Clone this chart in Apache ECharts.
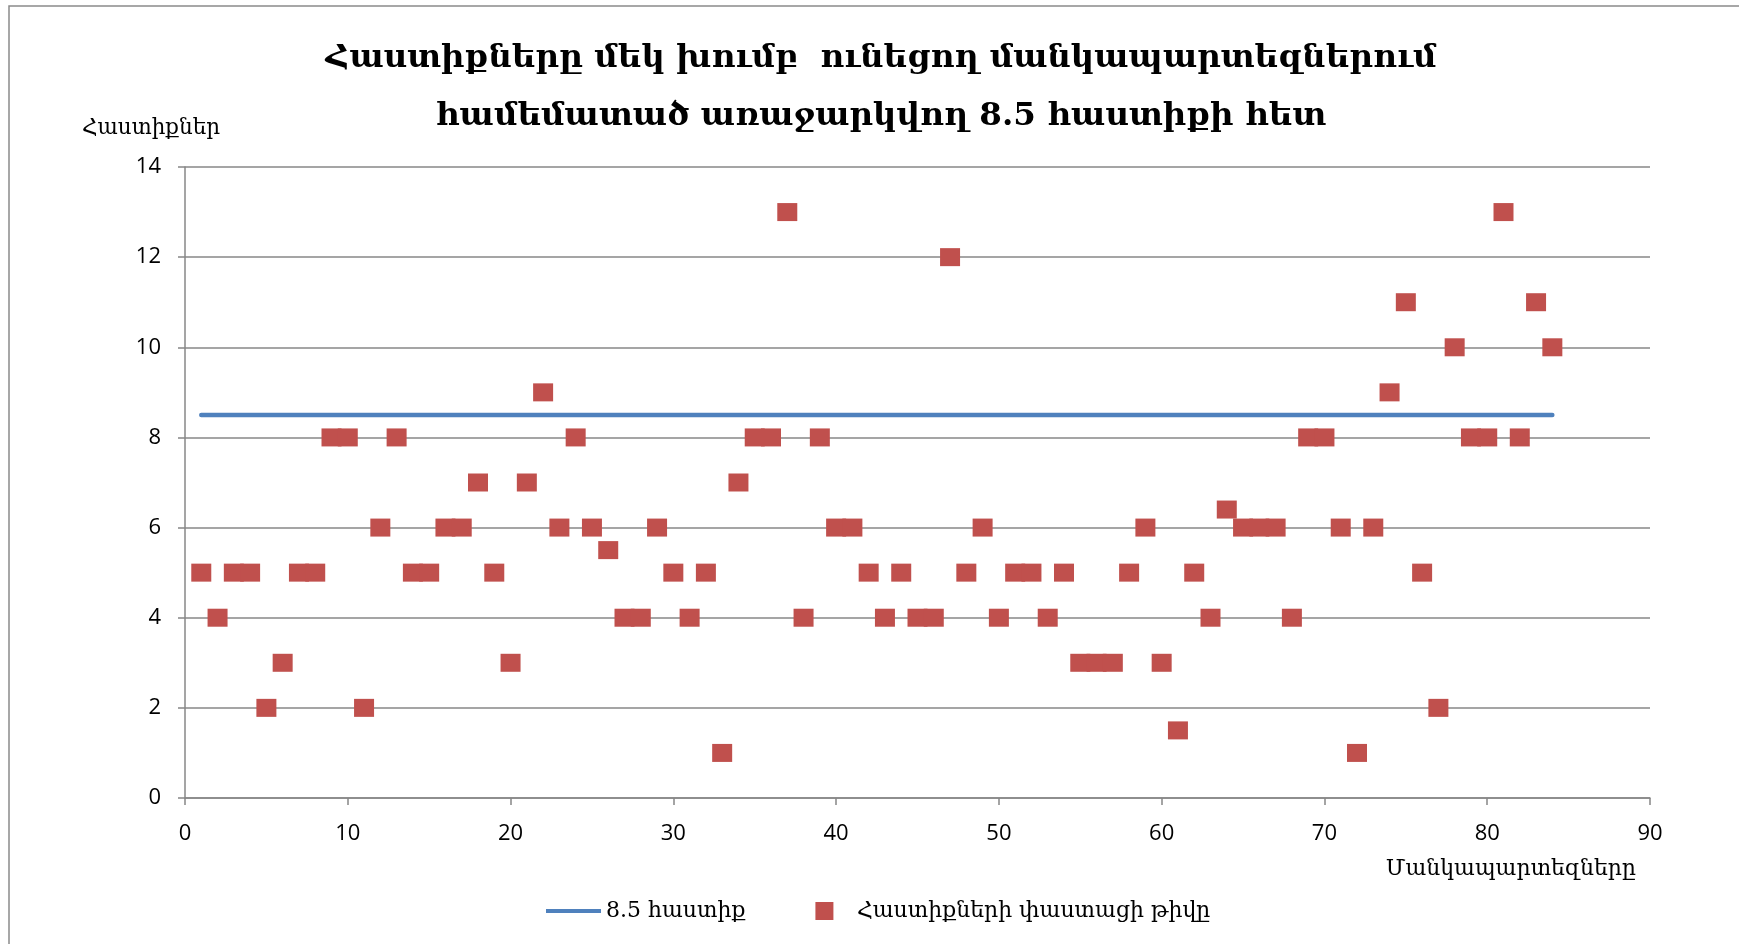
<!DOCTYPE html>
<html>
<head>
<meta charset="utf-8">
<title>Հաստիքներ</title>
<script src="https://cdn.jsdelivr.net/npm/echarts@6/dist/echarts.min.js"></script>
<style>
  html, body { margin: 0; padding: 0; background: #fff; }
  #chart { width: 1739px; height: 944px; }
</style>
</head>
<body>
<div id="chart"></div>
<script>
// kindergarten number (x) and actual staff count (y)
const gardens = [
  1, 2, 3, 4, 5, 6, 7, 8, 9, 10, 11, 12, 13, 14, 15, 16, 17, 18, 19, 20, 21,
  22, 23, 24, 25, 26, 27, 28, 29, 30, 31, 32, 33, 34, 35, 36, 37, 38, 39, 40, 41, 42,
  43, 44, 45, 46, 47, 48, 49, 50, 51, 52, 53, 54, 55, 56, 57, 58, 59, 60, 61, 62, 63,
  64, 65, 66, 67, 68, 69, 70, 71, 72, 73, 74, 75, 76, 77, 78, 79, 80, 81, 82, 83, 84
]
const staffActual = [
  5, 4, 5, 5, 2, 3, 5, 5, 8, 8, 2, 6, 8, 5, 5, 6, 6, 7, 5, 3, 7,
  9, 6, 8, 6, 5.5, 4, 4, 6, 5, 4, 5, 1, 7, 8, 8, 13, 4, 8, 6, 6, 5,
  4, 5, 4, 4, 12, 5, 6, 4, 5, 5, 4, 5, 3, 3, 3, 5, 6, 3, 1.5, 5, 4,
  6.4, 6, 6, 6, 4, 8, 8, 6, 1, 6, 9, 11, 5, 2, 10, 8, 8, 13, 8, 11, 10
]
// proposed norm line endpoints
const normX = [1, 84]
const normY = [8.5, 8.5]

const titleLines = [
  'Հաստիքները մեկ խումբ  ունեցող մանկապարտեզներում',
  'համեմատած առաջարկվող 8.5 հաստիքի հետ'
]
const yName = 'Հաստիքներ'
const xName = 'Մանկապարտեզները'
const seriesNames = ['8.5 հաստիք', 'Հաստիքների փաստացի թիվը']

const armFont = '"DejaVu Serif", serif'
const numFont = '"Open Sans", sans-serif'
const gridColor = '#878787'

const chart = echarts.init(document.getElementById('chart'))

chart.setOption({
  animation: false,
  backgroundColor: '#fff',
  graphic: [{
    type: 'rect',
    shape: { x: 9, y: 6, width: 1800, height: 1000 },
    style: { fill: 'none', stroke: '#8a8a8a', lineWidth: 1.5 },
    silent: true
  }],
  title: [
    {
      text: titleLines.join('\n'),
      left: 876,
      top: 25,
      textAlign: 'center',
      textStyle: {
        fontFamily: armFont,
        fontWeight: 'bold',
        fontSize: 32.5,
        lineHeight: 58,
        color: '#000'
      }
    },
    {
      text: yName,
      left: 77,
      top: 112,
      textStyle: { fontFamily: armFont, fontWeight: 'normal', fontSize: 21.5, color: '#000' }
    },
    {
      text: xName,
      right: 98,
      top: 853,
      textStyle: { fontFamily: armFont, fontWeight: 'normal', fontSize: 22, color: '#000' }
    }
  ],
  legend: {
    bottom: 17,
    left: 541,
    itemGap: 70,
    itemWidth: 55,
    itemHeight: 18,
    symbolKeepAspect: true,
    textStyle: { fontFamily: armFont, fontSize: 22, color: '#000' },
    data: [
      { name: seriesNames[0], icon: 'path://M0,0H55V4H0Z', itemStyle: { color: '#4F81BD' } },
      { name: seriesNames[1], icon: 'path://M0,0H1V1H0Z', itemStyle: { color: '#C0504D' } }
    ]
  },
  grid: { left: 185, right: 89, top: 167, bottom: 146 },
  xAxis: {
    type: 'value',
    min: 0,
    max: 90,
    interval: 10,
    axisLine: { show: true, lineStyle: { color: gridColor, width: 1.5 } },
    axisTick: { show: true, length: 7, lineStyle: { color: gridColor, width: 1.5 } },
    axisLabel: { fontFamily: numFont, fontSize: 22, color: '#000', margin: 25 },
    splitLine: { show: false }
  },
  yAxis: {
    type: 'value',
    min: 0,
    max: 14,
    interval: 2,
    axisLine: { show: true, lineStyle: { color: gridColor, width: 1.5 } },
    axisTick: { show: true, length: 7, lineStyle: { color: gridColor, width: 1.5 } },
    axisLabel: { fontFamily: numFont, fontSize: 22, color: '#000', margin: 24 },
    splitLine: { show: true, lineStyle: { color: gridColor, width: 1.5 } }
  },
  series: [
    {
      name: seriesNames[0],
      type: 'line',
      symbol: 'none',
      data: normX.map((x, i) => [x, normY[i]]),
      lineStyle: { color: '#4F81BD', width: 4.5, cap: 'round' },
      itemStyle: { color: '#4F81BD' },
      z: 2
    },
    {
      name: seriesNames[1],
      type: 'scatter',
      symbol: 'rect',
      symbolSize: [20, 18],
      data: gardens.map((x, i) => [x, staffActual[i]]),
      itemStyle: { color: '#C0504D', opacity: 1 },
      z: 3
    }
  ]
})
</script>
</body>
</html>
